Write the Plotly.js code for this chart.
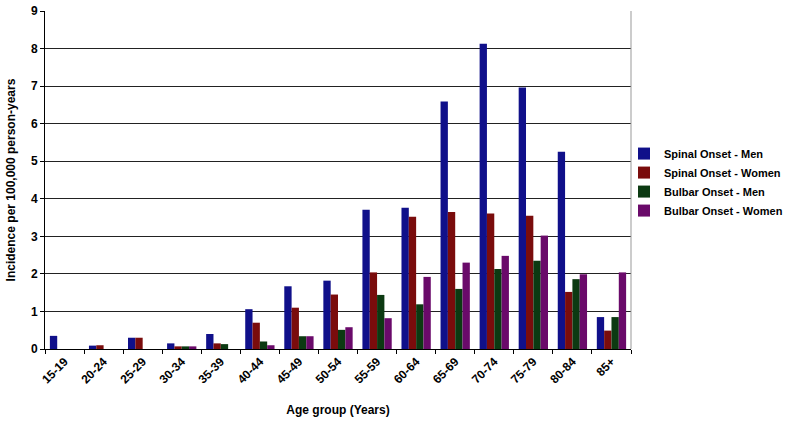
<!DOCTYPE html>
<html>
<head>
<meta charset="utf-8">
<script src="https://cdn.plot.ly/plotly-3.0.1.min.js"></script>
<style>
  body { margin: 0; background: #fff; }
  #chart { width: 800px; height: 424px; }
</style>
</head>
<body>
<div id="chart"></div>
<script>
// age groups on the x axis
const ageGroups = ['15-19', '20-24', '25-29', '30-34', '35-39', '40-44', '45-49',
  '50-54', '55-59', '60-64', '65-69', '70-74', '75-79', '80-84', '85+'];

// incidence per 100,000 person-years
const spinalMen   = [0.35, 0.09, 0.30, 0.15, 0.40, 1.06, 1.67, 1.82, 3.71, 3.76, 6.59, 8.13, 6.96, 5.25, 0.85];
const spinalWomen = [0, 0.10, 0.30, 0.07, 0.15, 0.70, 1.10, 1.45, 2.04, 3.52, 3.65, 3.61, 3.55, 1.52, 0.49];
const bulbarMen   = [0, 0, 0, 0.07, 0.13, 0.20, 0.34, 0.51, 1.44, 1.19, 1.60, 2.13, 2.35, 1.86, 0.85];
const bulbarWomen = [0, 0, 0, 0.07, 0, 0.10, 0.34, 0.58, 0.82, 1.92, 2.30, 2.48, 3.02, 1.99, 2.04];

const seriesNames = ['Spinal Onset - Men', 'Spinal Onset - Women', 'Bulbar Onset - Men', 'Bulbar Onset - Women'];
const seriesColors = ['#10108a', '#7a0c0c', '#0c3a12', '#6a0a6a'];
const seriesValues = [spinalMen, spinalWomen, bulbarMen, bulbarWomen];

const fam = 'Liberation Sans, Arial, sans-serif';
const boldFont = (size) => ({ family: fam, size: size, color: '#000', weight: 'bold' });

let data = [];
for (let i = 0; i < seriesValues.length; i++) {
  data.push({
    type: 'bar',
    x: ageGroups,
    y: seriesValues[i],
    name: seriesNames[i],
    marker: { color: seriesColors[i], line: { width: 0 } }
  });
}

const layout = {
  width: 800,
  height: 424,
  margin: { l: 45, r: 169, t: 11, b: 75, autoexpand: false },
  paper_bgcolor: '#fff',
  plot_bgcolor: '#fff',
  font: { family: fam, size: 12, color: '#000' },
  barmode: 'group',
  bargap: 0.25,
  bargroupgap: 0,
  showlegend: true,
  legend: {
    xref: 'container', yref: 'container',
    x: 0.78, y: 0.672, xanchor: 'left', yanchor: 'top',
    bgcolor: 'rgba(0,0,0,0)',
    font: boldFont(11),
    itemwidth: 30, tracegroupgap: 0
  },
  xaxis: {
    type: 'category',
    tickangle: -45,
    tickson: 'boundaries',
    ticks: 'outside', ticklen: 4, tickcolor: '#000',
    showline: true, linecolor: '#000', linewidth: 1,
    showgrid: false,
    tickfont: boldFont(12),
    title: { text: 'Age group (Years)', font: boldFont(12), standoff: 20 }
  },
  yaxis: {
    range: [0, 9],
    dtick: 1,
    ticks: 'outside', ticklen: 4, tickcolor: '#000',
    showline: true, linecolor: '#000', linewidth: 1,
    showgrid: true, gridcolor: '#222', gridwidth: 1,
    zeroline: false,
    tickfont: boldFont(12),
    title: { text: 'Incidence per 100,000 person-years', font: boldFont(12), standoff: 12 }
  },
  shapes: [
    { type: 'line', xref: 'paper', yref: 'paper', x0: 1, x1: 1, y0: 0, y1: 1, line: { color: '#999', width: 1 } }
  ]
};

Plotly.newPlot('chart', data, layout, { staticPlot: true });
</script>
</body>
</html>
